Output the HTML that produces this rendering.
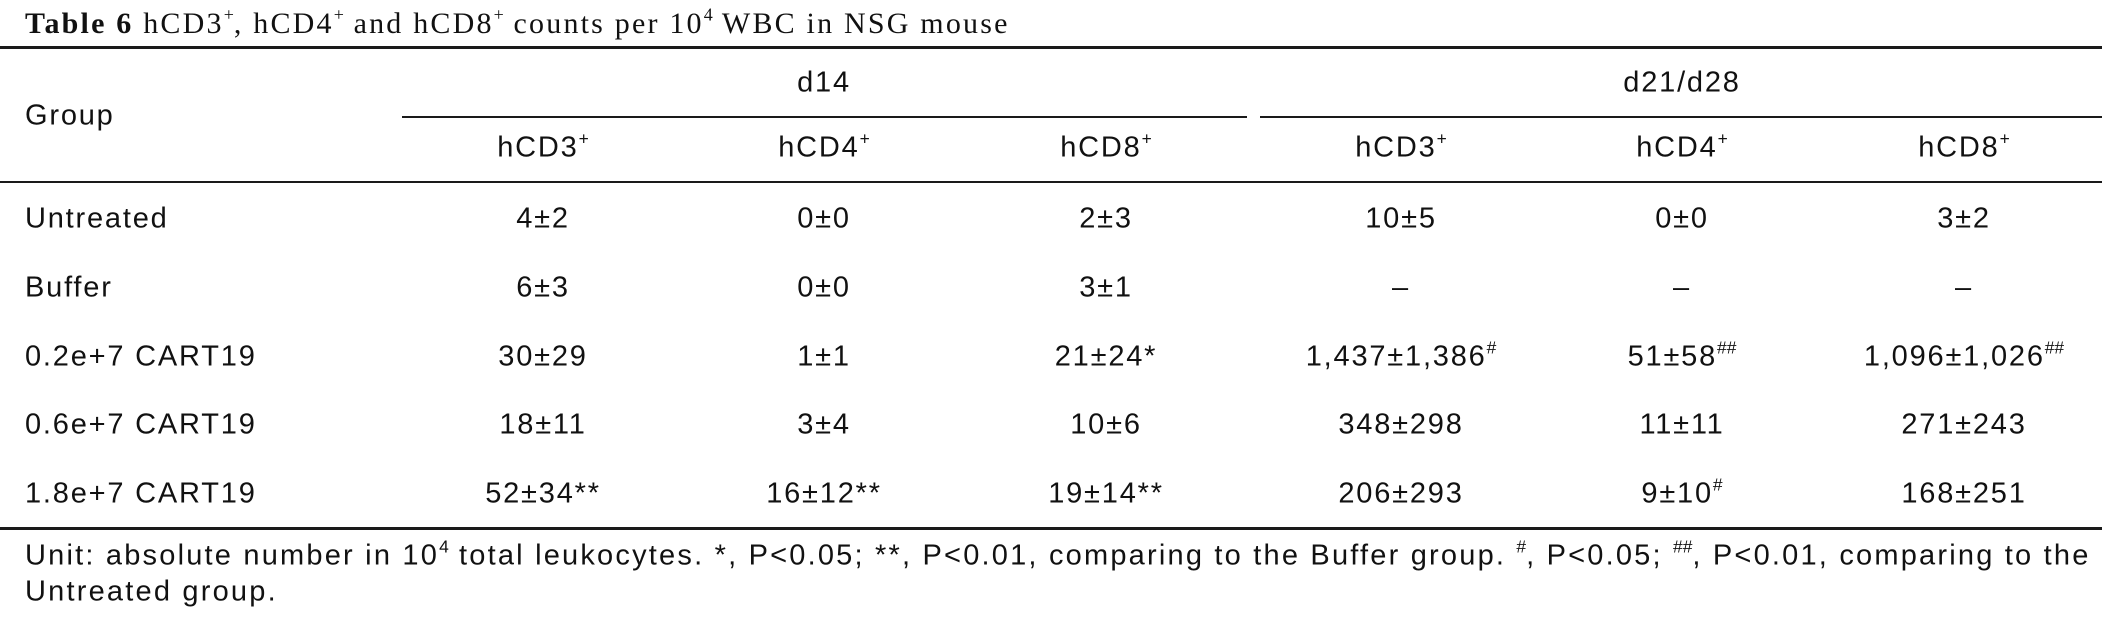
<!DOCTYPE html>
<html><head><meta charset="utf-8">
<style>
body{margin:0;background:#fff;}
#t{position:relative;width:2102px;height:623px;overflow:hidden;background:#fff;color:#111;font-family:"Liberation Sans",Arial,sans-serif;}
.r{position:absolute;left:0;background:#1a1a1a;}
.c{position:absolute;font-size:29px;letter-spacing:1.8px;white-space:nowrap;transform:translate(-50%,-50%);}
.l{position:absolute;font-size:29px;letter-spacing:1.8px;white-space:nowrap;transform:translateY(-50%);left:25px;}
sup{font-size:60%;vertical-align:0.7em;line-height:0;letter-spacing:0;}
.title{position:absolute;left:25px;top:24px;transform:translateY(-50%);font-family:"Liberation Serif",serif;font-size:30px;letter-spacing:2.2px;white-space:nowrap;}
.foot{position:absolute;left:25px;font-size:29px;letter-spacing:2.2px;white-space:nowrap;transform:translateY(-50%);}
</style></head><body>
<div id="t">
<div class="title"><b>Table 6</b> hCD3<sup>+</sup>, hCD4<sup>+</sup> and hCD8<sup>+</sup> counts per 10<sup>4</sup> WBC in NSG mouse</div>
<div class="r" style="top:46px;width:2102px;height:3px"></div>
<div class="r" style="top:116px;left:402px;width:845px;height:2px"></div>
<div class="r" style="top:116px;left:1260px;width:842px;height:2px"></div>
<div class="r" style="top:181px;width:2102px;height:2px"></div>
<div class="r" style="top:527px;width:2102px;height:3px"></div>
<div class="l" style="top:116px">Group</div>
<div class="c" style="left:824px;top:83px">d14</div>
<div class="c" style="left:1682px;top:83px">d21/d28</div>
<div class="foot" style="top:556px">Unit: absolute number in 10<sup>4</sup> total leukocytes. *, P&lt;0.05; **, P&lt;0.01, comparing to the Buffer group. <sup>#</sup>, P&lt;0.05; <sup>##</sup>, P&lt;0.01, comparing to the</div>
<div class="foot" style="top:592px">Untreated group.</div>
</div>
<script>
const cols=["hCD3<sup>+</sup>","hCD4<sup>+</sup>","hCD8<sup>+</sup>","hCD3<sup>+</sup>","hCD4<sup>+</sup>","hCD8<sup>+</sup>"];
const groups=["Untreated","Buffer","0.2e+7 CART19","0.6e+7 CART19","1.8e+7 CART19"];
const values=[
["4±2","0±0","2±3","10±5","0±0","3±2"],
["6±3","0±0","3±1","–","–","–"],
["30±29","1±1","21±24*","1,437±1,386<sup>#</sup>","51±58<sup>##</sup>","1,096±1,026<sup>##</sup>"],
["18±11","3±4","10±6","348±298","11±11","271±243"],
["52±34**","16±12**","19±14**","206±293","9±10<sup>#</sup>","168±251"]];
const xs=[543,824,1106,1401,1682,1964];
const ys=[219,288,357,425,494];
const t=document.getElementById('t');
cols.forEach((c,i)=>{const d=document.createElement('div');d.className='c';d.style.left=xs[i]+'px';d.style.top='148px';d.innerHTML=c;


t.appendChild(d);});
groups.forEach((g,r)=>{const d=document.createElement('div');d.className='l';d.style.top=ys[r]+'px';d.textContent=g;


t.appendChild(d);
values[r].forEach((v,i)=>{const e=document.createElement('div');e.className='c';e.style.left=xs[i]+'px';e.style.top=ys[r]+'px';e.innerHTML=v;


t.appendChild(e);});});
</script>
</body></html>
